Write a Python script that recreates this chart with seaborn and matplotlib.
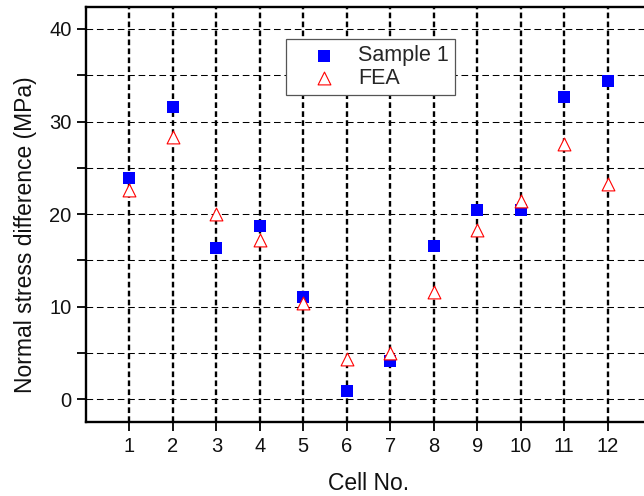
import numpy as np
import pandas as pd
import matplotlib
matplotlib.use("Agg")
import matplotlib.pyplot as plt
from matplotlib.ticker import MultipleLocator
import seaborn as sns

# Normal stress difference per cell: measured sample vs. finite-element result
cells = [1, 2, 3, 4, 5, 6, 7, 8, 9, 10, 11, 12]
sample_1 = [23.9, 31.6, 16.3, 18.7, 11.1, 0.9, 4.1, 16.6, 20.4, 20.4, 32.7, 34.4]
fea = [22.6, 28.3, 20.0, 17.2, 10.4, 4.3, 5.0, 11.6, 18.3, 21.4, 27.6, 23.2]
x_ticks = cells
y_major = [0, 10, 20, 30, 40]

sns.set_style("ticks")
plt.rcParams["font.family"] = ["Liberation Sans", "DejaVu Sans"]

df_sample = pd.DataFrame({"cell": cells, "stress": sample_1})
df_fea = pd.DataFrame({"cell": cells, "stress": fea})

fig = plt.figure(figsize=(6.44, 4.96), dpi=100)
ax = fig.add_axes([86 / 644, 1 - 422 / 496, (651 - 86) / 644, (422 - 6.7) / 496])

sns.scatterplot(data=df_sample, x="cell", y="stress", ax=ax, marker="s", s=75,
                color="#0000ff", linewidth=0, label="Sample 1", zorder=3)
sns.scatterplot(data=df_fea, x="cell", y="stress", ax=ax, marker="^", s=85,
                color="white", edgecolor="#ff0000", linewidth=0.8, label="FEA",
                zorder=4)

ax.set_xlim(0, 13)
ax.set_ylim(-2.45, 42.4)
ax.set_xticks(x_ticks)
ax.set_yticks(y_major)
ax.yaxis.set_minor_locator(MultipleLocator(5))

# Grid: heavy dotted verticals, thin dashed horizontals at every 5 MPa
ax.grid(False)
ax.xaxis.grid(True, which="major", color="black", linewidth=1.7,
              linestyle=(0, (2.4, 1.4)), zorder=1)
ax.yaxis.grid(True, which="both", color="black", linewidth=0.75,
              linestyle=(0, (6.4, 3.6)), zorder=1)
ax.set_axisbelow(True)

for side in ("left", "bottom", "top", "right"):
    ax.spines[side].set_linewidth(1.7)
    ax.spines[side].set_color("black")

ax.tick_params(axis="both", which="both", direction="out", length=6.5,
               width=1.3, color="black", labelsize=14.5, labelcolor="#111111")
ax.tick_params(axis="x", pad=4)
ax.tick_params(axis="y", pad=4)
ax.tick_params(top=False, right=False)

ax.set_xlabel("Cell No.", fontsize=16.5, labelpad=12, color="#111111")
ax.set_ylabel("Normal stress difference (MPa)", fontsize=16.5, color="#111111")
ax.yaxis.set_label_coords(-0.0867, 0.45)

leg = ax.legend(loc="upper left", bbox_to_anchor=((286 - 86) / 565, 1 - (39 - 6.7) / 415.3),
                borderaxespad=0, fontsize=15.5, frameon=True, fancybox=False,
                handlelength=2.9, handletextpad=0.15, borderpad=0.3,
                labelspacing=0.05, markerscale=1.0)
leg.get_frame().set_edgecolor("#555555")
leg.get_frame().set_linewidth(0.9)
leg.get_frame().set_facecolor("white")
leg.get_frame().set_alpha(1)

fig.savefig("out.png", dpi=100)
